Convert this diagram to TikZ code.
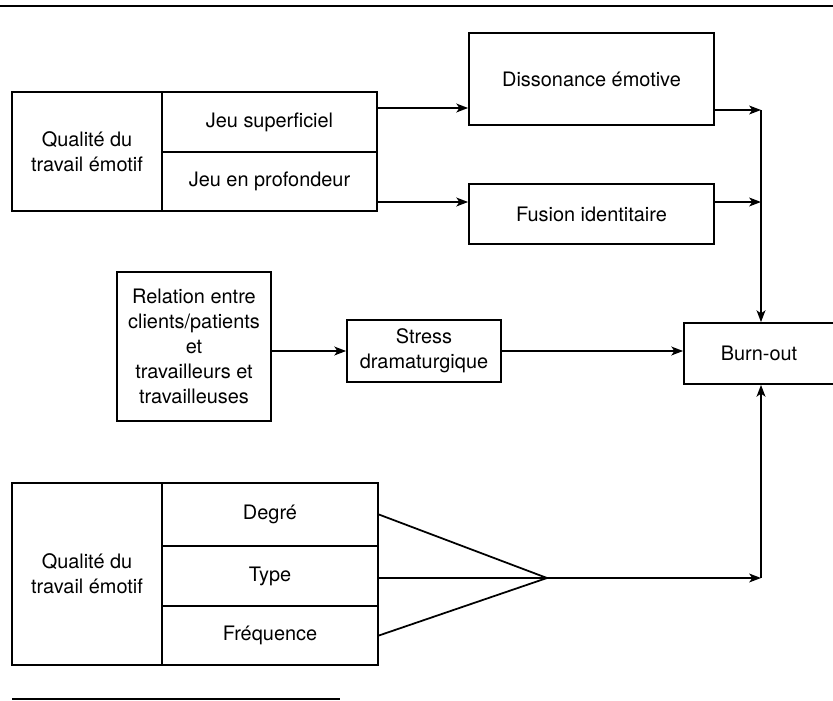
\documentclass[tikz,border=0pt]{standalone}
\usepackage{fontspec}
\setmainfont{TeX Gyre Heros}
\usepackage{tikz}
\usetikzlibrary{positioning,arrows.meta,calc}
\tikzset{
  basic/.style  = {draw, line width=1.5pt, inner sep=0pt, align=center,
                   font=\fontsize{17}{21.3}\selectfont},
  post/.style   = {-{Stealth[length=10pt, width=7.5pt, inset=2.5pt]}, line width=1.5pt},
  plain/.style  = {line width=1.5pt},
  rule/.style   = {line width=2pt}
}

\begin{document}
\begin{tikzpicture}[x=0.03cm, y=-0.03cm]
      \useasboundingbox (0,0) rectangle (833,701);
      \draw[rule] (0,6) -- (833,6);
      \draw[rule] (12,699) -- (340,699);
      % premier bloc
      \node[basic, minimum width=4.5cm,  minimum height=3.57cm] (qualA) at (87,151.5)  {Qualité du\\travail émotif};
      \node[basic, minimum width=6.45cm, minimum height=1.8cm]  (jeuS)  at (269.5,122) {Jeu superficiel};
      \node[basic, minimum width=6.45cm, minimum height=1.77cm] (jeuP)  at (269.5,181.5) {Jeu en profondeur};
      \node[basic, minimum width=7.35cm, minimum height=2.76cm] (diss)  at (591.5,79)  {Dissonance émotive};
      \node[basic, minimum width=7.35cm, minimum height=1.8cm]  (fus)   at (591.5,214) {Fusion identitaire};
      % relation
      \node[basic, minimum width=4.62cm, minimum height=4.47cm] (rel)   at (194,346.5) {Relation entre\\clients/patients\\et\\travailleurs et\\travailleuses};
      \node[basic, minimum width=4.62cm, minimum height=1.86cm] (stress) at (424,351)  {Stress\\dramaturgique};
      \node[basic, minimum width=4.5cm,  minimum height=1.83cm] (burn)  at (759,353.5) {Burn-out};
      % second bloc
      \node[basic, minimum width=4.5cm,  minimum height=5.46cm] (qualB) at (87,574)    {Qualité du\\travail émotif};
      \node[basic, minimum width=6.48cm, minimum height=1.89cm] (deg)   at (270,514.5) {Degré};
      \node[basic, minimum width=6.48cm, minimum height=1.8cm]  (typ)   at (270,576)   {Type};
      \node[basic, minimum width=6.48cm, minimum height=1.77cm] (freq)  at (270,635.5) {Fréquence};
      \coordinate (j1)   at (377,108);
      \coordinate (j2)   at (377,202);
      \coordinate (top)  at (761,110);
      \coordinate (mid)  at (761,202);
      \coordinate (conv) at (547,578);
      \coordinate (bot)  at (761,578);
      \draw[post] (j1) -- (j1 -| diss.west);
      \draw[post] (j2) -- (j2 -| fus.west);
      \draw[post] (diss.east |- top) -- (top);
      \draw[post] (fus.east |- mid) -- (mid);
      \draw[post] (top) -- (top |- burn.north);
      \draw[post] (rel.east |- stress.west) -- (stress.west);
      \draw[post] (stress.east) -- (stress.east -| burn.west);
      \draw[plain] (deg.east) -- (conv);
      \draw[plain] (typ.east |- conv) -- (conv);
      \draw[plain] (freq.east) -- (conv);
      \draw[post] (conv) -- (bot);
      \draw[post] (bot) -- (bot |- burn.south);
\end{tikzpicture}
\end{document}
